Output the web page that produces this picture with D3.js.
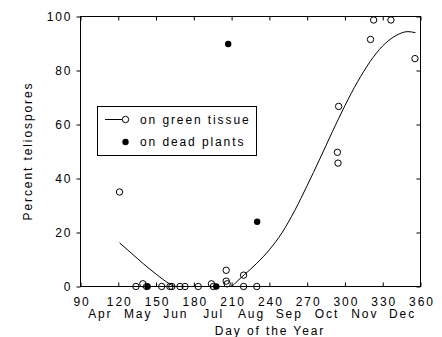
<!DOCTYPE html>
<html>
<head>
<meta charset="utf-8">
<script src="https://cdn.jsdelivr.net/npm/d3@7"></script>
<style>
  body { margin: 0; background: #fff; }
  svg text { font-family: Arial, "Liberation Sans", sans-serif; font-size: 12px; letter-spacing: 1.9px; fill: #000; }
</style>
</head>
<body>
<svg id="chart" width="442" height="337"></svg>
<script>
// data
const greenDay = [121, 134, 139.5, 142.5, 154.5, 161, 162.5, 169, 173, 183.5, 194, 195.5, 205.7, 205.7, 206.5, 219.5, 219.5, 230, 294, 294.5, 295, 320.3, 322.8, 336.5, 355.6];
const greenPct = [35, 0, 1, 0, 0, 0, 0, 0, 0, 0, 1, 0, 6, 2, 1, 4.2, 0, 0, 49.7, 45.7, 66.7, 91.5, 98.7, 98.7, 84.4];

const deadDay = [143.3, 197.8, 207.3, 230.3];
const deadPct = [0, 0, 89.8, 24];

// fitted curve (green tissue), sampled from the figure
const fitDay = [121, 130, 140, 150, 160, 165, 180, 200, 209, 215, 220, 230, 240, 250, 260, 270, 280, 290, 300, 310, 320, 330, 340, 350, 356];
const fitPct = [16.2, 12.5, 8.4, 4.6, 1.2, 0, 0, 0, 0, 2.2, 4.3, 8.6, 13.6, 19.9, 28, 37.4, 47.2, 57.3, 67, 75.8, 83.3, 89.1, 92.8, 94.4, 94];

const xTicks = [90, 120, 150, 180, 210, 240, 270, 300, 330, 360];
const yTicks = [0, 20, 40, 60, 80, 100];
const monthNames = ["Apr", "May", "Jun", "Jul", "Aug", "Sep", "Oct", "Nov", "Dec"];
const monthMid = [105, 135, 165, 195, 225, 255, 285, 315, 345];

const svg = d3.select("#chart");

const plotL = 80.5, plotR = 420.5, plotT = 16.5, plotB = 286.5;
const ls = 1.9; // letter spacing, used to re-centre text

const x = d3.scaleLinear().domain([90, 360]).range([plotL, plotR]);
const y = d3.scaleLinear().domain([0, 100]).range([plotB, plotT]);

// frame
svg.append("rect")
  .attr("x", plotL).attr("y", plotT)
  .attr("width", plotR - plotL).attr("height", plotB - plotT)
  .attr("fill", "none").attr("stroke", "#000").attr("stroke-width", 1);

// bottom axis: ticks inward
const xAxisB = svg.append("g").attr("transform", `translate(0,${plotB})`)
  .call(d3.axisBottom(x).tickValues(xTicks).tickSize(-4).tickPadding(11));
xAxisB.select(".domain").remove();
xAxisB.selectAll("text").attr("dx", ls / 2);

// top axis ticks (no labels)
const xAxisT = svg.append("g").attr("transform", `translate(0,${plotT})`)
  .call(d3.axisTop(x).tickValues(xTicks).tickSize(-4).tickFormat(""));
xAxisT.select(".domain").remove();

// left axis: ticks outward
const yAxisL = svg.append("g").attr("transform", `translate(${plotL},0)`)
  .call(d3.axisLeft(y).tickValues(yTicks).tickSize(4).tickPadding(6));
yAxisL.select(".domain").remove();
yAxisL.selectAll("text").attr("dx", ls);

// right axis ticks inward
const yAxisR = svg.append("g").attr("transform", `translate(${plotR},0)`)
  .call(d3.axisRight(y).tickValues(yTicks).tickSize(-4).tickFormat(""));
yAxisR.select(".domain").remove();

svg.selectAll(".tick line").attr("stroke", "#000");

// month labels
svg.append("g").selectAll("text")
  .data(monthNames)
  .enter()
  .append("text")
  .attr("x", (d, i) => x(monthMid[i]) + ls / 2)
  .attr("y", 317.5)
  .attr("text-anchor", "middle")
  .text(d => d);

// axis titles
svg.append("text")
  .attr("x", 269 + ls / 2)
  .attr("y", 334.5)
  .attr("text-anchor", "middle")
  .text("Day of the Year");

svg.append("text")
  .attr("transform", "translate(32,151) rotate(-90)")
  .attr("text-anchor", "middle")
  .text("Percent teliospores");

// fitted line
const line = d3.line()
  .x((d, i) => x(fitDay[i]))
  .y((d, i) => y(fitPct[i]))
  .curve(d3.curveMonotoneX);

svg.append("path")
  .datum(fitPct)
  .attr("d", line)
  .attr("fill", "none")
  .attr("stroke", "#000")
  .attr("stroke-width", 1);

// green tissue points (open)
svg.append("g").selectAll("circle")
  .data(greenPct)
  .enter()
  .append("circle")
  .attr("cx", (d, i) => x(greenDay[i]))
  .attr("cy", d => y(d))
  .attr("r", 3.2)
  .attr("fill", "none")
  .attr("stroke", "#000")
  .attr("stroke-width", 1);

// dead plant points (filled)
svg.append("g").selectAll("circle")
  .data(deadPct)
  .enter()
  .append("circle")
  .attr("cx", (d, i) => x(deadDay[i]))
  .attr("cy", d => y(d))
  .attr("r", 3.2)
  .attr("fill", "#000");

// legend
const lg = svg.append("g");
lg.append("rect")
  .attr("x", 97.5).attr("y", 106.5)
  .attr("width", 159).attr("height", 49)
  .attr("fill", "#fff").attr("stroke", "#000").attr("stroke-width", 1);
lg.append("line")
  .attr("x1", 105).attr("x2", 122).attr("y1", 119.5).attr("y2", 119.5)
  .attr("stroke", "#000");
lg.append("circle")
  .attr("cx", 125.5).attr("cy", 119.5).attr("r", 3.2)
  .attr("fill", "#fff").attr("stroke", "#000");
lg.append("circle")
  .attr("cx", 125.5).attr("cy", 142).attr("r", 3.2)
  .attr("fill", "#000");
lg.append("text").attr("x", 140).attr("y", 123.5).text("on green tissue");
lg.append("text").attr("x", 140).attr("y", 146).text("on dead plants");
</script>
</body>
</html>
